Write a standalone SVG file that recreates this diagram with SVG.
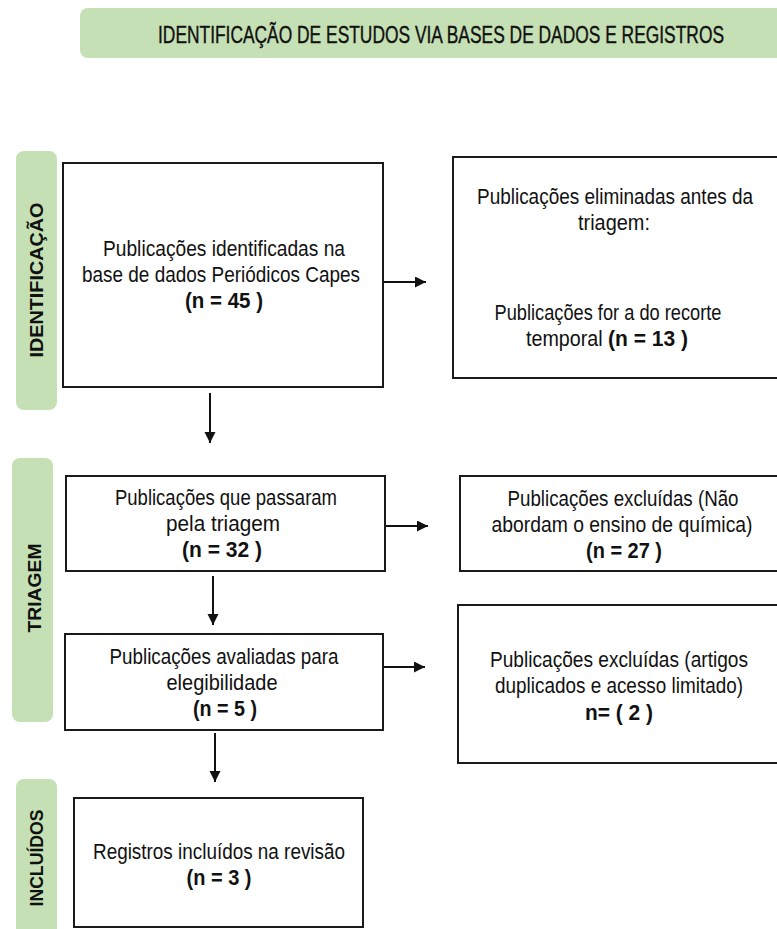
<svg xmlns="http://www.w3.org/2000/svg" width="777" height="929" viewBox="0 0 777 929">
<style>
.pill{fill:#c5e0b4;}
.box{fill:#ffffff;stroke:#1a1a1a;stroke-width:2;}
.t{font-family:"Liberation Sans",Arial,sans-serif;font-size:21.5px;fill:#111;text-anchor:middle;}
.b{font-weight:bold;}
.v{font-family:"Liberation Sans",Arial,sans-serif;font-size:19px;font-weight:bold;fill:#111;text-anchor:middle;}
.ttl{font-family:"Liberation Sans",Arial,sans-serif;font-size:23px;fill:#111;text-anchor:middle;stroke:#111;stroke-width:0.4;}
.c{stroke:#111;stroke-width:2;fill:none;marker-end:url(#ah);}
</style>
<defs>
<marker id="ah" markerWidth="12" markerHeight="12" refX="11" refY="5.5" orient="auto" markerUnits="userSpaceOnUse">
<path d="M0,0 L11,5.5 L0,11 Z" fill="#111"/>
</marker>
</defs>
<rect width="777" height="929" fill="#ffffff"/>

<g id="header">
<rect class="pill" x="80" y="8" width="720" height="50" rx="8"/>
<text class="ttl" x="441" y="43" textLength="566" lengthAdjust="spacingAndGlyphs">IDENTIFICAÇÃO DE ESTUDOS VIA BASES DE DADOS E REGISTROS</text>
</g>

<g id="lane-identificacao">
<rect class="pill" x="16" y="151" width="41" height="259" rx="8"/>
<text class="v" transform="translate(43,280) rotate(-90)" textLength="155" lengthAdjust="spacingAndGlyphs">IDENTIFICAÇÃO</text>
</g>
<g id="lane-triagem">
<rect class="pill" x="12" y="458" width="41" height="264" rx="8"/>
<text class="v" transform="translate(41,588) rotate(-90)" textLength="89" lengthAdjust="spacingAndGlyphs">TRIAGEM</text>
</g>
<g id="lane-incluidos">
<rect class="pill" x="16" y="779" width="41" height="170" rx="8"/>
<text class="v" transform="translate(43,858) rotate(-90)" textLength="97" lengthAdjust="spacingAndGlyphs">INCLUÍDOS</text>
</g>

<g id="n-identificadas">
<rect class="box" x="63" y="163" width="320" height="224"/>
<text class="t" x="224" y="256" textLength="242" lengthAdjust="spacingAndGlyphs">Publicações identificadas na</text>
<text class="t" x="221" y="282" textLength="278" lengthAdjust="spacingAndGlyphs">base de dados Periódicos Capes</text>
<text class="t b" x="224" y="308" textLength="78" lengthAdjust="spacingAndGlyphs">(n = 45 )</text>
</g>

<g id="n-eliminadas">
<rect class="box" x="453" y="157" width="340" height="221"/>
<text class="t" x="615" y="204" textLength="276" lengthAdjust="spacingAndGlyphs">Publicações eliminadas antes da</text>
<text class="t" x="614" y="230" textLength="72" lengthAdjust="spacingAndGlyphs">triagem:</text>
<text class="t" x="608" y="320" textLength="227" lengthAdjust="spacingAndGlyphs">Publicações for a do recorte</text>
<text class="t" x="607" y="346"><tspan textLength="82" lengthAdjust="spacingAndGlyphs">temporal </tspan><tspan class="b" textLength="80" lengthAdjust="spacingAndGlyphs">(n = 13 )</tspan></text>
</g>

<g id="n-triagem">
<rect class="box" x="66" y="476" width="319" height="95"/>
<text class="t" x="226" y="505" textLength="222" lengthAdjust="spacingAndGlyphs">Publicações que passaram</text>
<text class="t" x="223" y="531" textLength="114" lengthAdjust="spacingAndGlyphs">pela triagem</text>
<text class="t b" x="222" y="557" textLength="80" lengthAdjust="spacingAndGlyphs">(n = 32 )</text>
</g>

<g id="n-excluidas1">
<rect class="box" x="460" y="476" width="330" height="95"/>
<text class="t" x="623" y="506" textLength="231" lengthAdjust="spacingAndGlyphs">Publicações excluídas (Não</text>
<text class="t" x="622" y="532" textLength="261" lengthAdjust="spacingAndGlyphs">abordam o ensino de química)</text>
<text class="t b" x="624" y="558" textLength="76" lengthAdjust="spacingAndGlyphs">(n = 27 )</text>
</g>

<g id="n-elegibilidade">
<rect class="box" x="65" y="634" width="318" height="96"/>
<text class="t" x="224" y="664" textLength="229" lengthAdjust="spacingAndGlyphs">Publicações avaliadas para</text>
<text class="t" x="222" y="690" textLength="111" lengthAdjust="spacingAndGlyphs">elegibilidade</text>
<text class="t b" x="225" y="716" textLength="64" lengthAdjust="spacingAndGlyphs">(n = 5 )</text>
</g>

<g id="n-excluidas2">
<rect class="box" x="458" y="605" width="335" height="158"/>
<text class="t" x="619" y="667" textLength="258" lengthAdjust="spacingAndGlyphs">Publicações excluídas (artigos</text>
<text class="t" x="619" y="693" textLength="248" lengthAdjust="spacingAndGlyphs">duplicados e acesso limitado)</text>
<text class="t b" x="619" y="720" textLength="68" lengthAdjust="spacingAndGlyphs">n= ( 2 )</text>
</g>

<g id="n-incluidos">
<rect class="box" x="74" y="798" width="289" height="129"/>
<text class="t" x="219" y="859" textLength="252" lengthAdjust="spacingAndGlyphs">Registros incluídos na revisão</text>
<text class="t b" x="219" y="885" textLength="65" lengthAdjust="spacingAndGlyphs">(n = 3 )</text>
</g>

<g id="connectors">
<line class="c" x1="384" y1="282" x2="426" y2="282"/>
<line class="c" x1="210" y1="393" x2="210" y2="443"/>
<line class="c" x1="386" y1="526" x2="428" y2="526"/>
<line class="c" x1="213" y1="576" x2="213" y2="625"/>
<line class="c" x1="384" y1="667" x2="425" y2="667"/>
<line class="c" x1="215" y1="733" x2="215" y2="782"/>
</g>
</svg>
